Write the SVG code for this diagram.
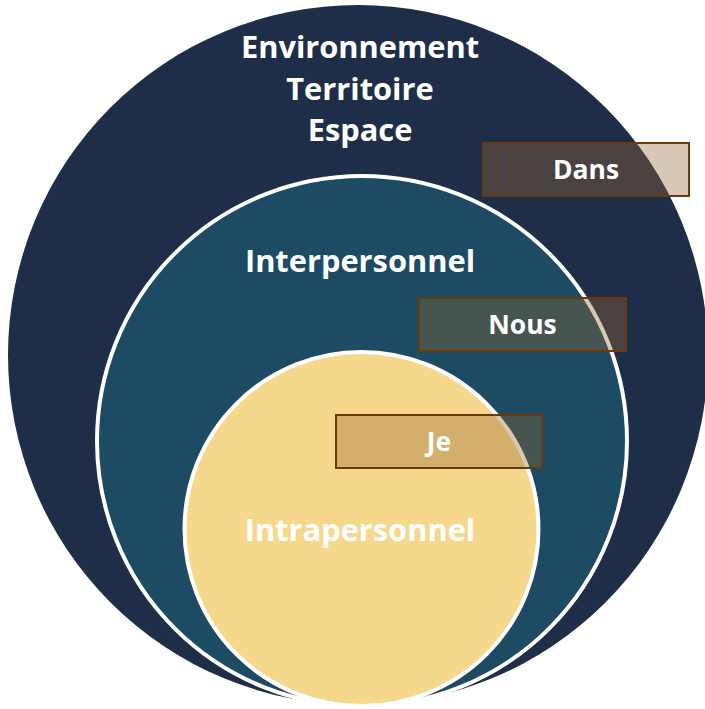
<svg xmlns="http://www.w3.org/2000/svg" width="705" height="709" viewBox="0 0 705 709">
<style>
.t{font-family:"Open Sans","Liberation Sans",sans-serif;font-weight:bold;fill:#ffffff;text-anchor:middle;dominant-baseline:central}
.big{font-size:30.8px}
.sm{font-size:26.5px}
.box{fill:#966733;fill-opacity:0.36;stroke:#6B3A0C;stroke-width:2}
.ring{stroke:#ffffff;stroke-width:4}
</style>
<rect width="705" height="709" fill="#ffffff"/>
<g id="environnement">
<circle cx="358" cy="355" r="350" fill="#1F2E48"/>
<text class="t big" x="360" y="46">Environnement</text>
<text class="t big" x="360" y="88">Territoire</text>
<text class="t big" x="360" y="129">Espace</text>
</g>
<g id="interpersonnel">
<circle class="ring" cx="362" cy="441" r="265" fill="#1C4B63"/>
<text class="t big" x="360" y="260">Interpersonnel</text>
</g>
<g id="intrapersonnel">
<circle class="ring" cx="361.5" cy="529" r="177" fill="#F6D88C"/>
<text class="t big" x="360" y="529">Intrapersonnel</text>
</g>
<g id="dans">
<rect class="box" x="483" y="143" width="206" height="53"/>
<text class="t sm" x="586" y="169">Dans</text>
</g>
<g id="nous">
<rect class="box" x="419" y="298" width="207" height="53"/>
<text class="t sm" x="522.5" y="324">Nous</text>
</g>
<g id="je">
<rect class="box" x="336" y="415" width="206" height="53"/>
<text class="t sm" x="439" y="441">Je</text>
</g>
<g id="connectors"></g>
</svg>
